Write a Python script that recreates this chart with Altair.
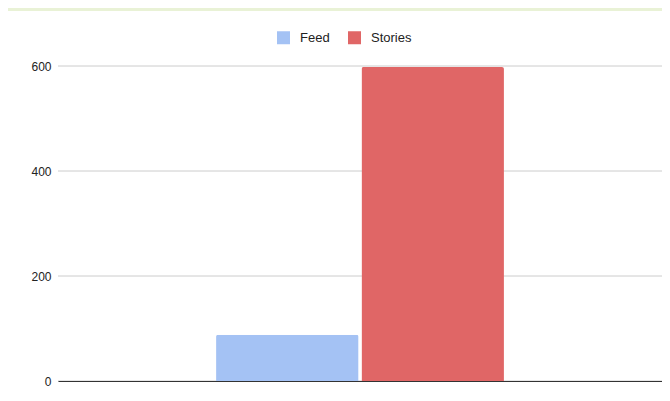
import altair as alt
import pandas as pd

categories = ["Feed", "Stories"]
values = [88, 598]
colors = ["#a4c2f4", "#e06666"]
y_ticks = [0, 200, 400, 600]

df = pd.DataFrame({"group": ["" for _ in categories], "series": categories, "value": values})
grid_df = pd.DataFrame({"tick": y_ticks})

yscale = alt.Scale(domain=[0, 600], nice=False)
yaxis = alt.Axis(values=y_ticks, title=None, domain=False, ticks=False, grid=False,
                 zindex=1, labelPadding=7, labelFontSize=12, labelColor="#222222",
                 labelFont="Liberation Sans")

panel = alt.Chart(alt.Data(values=[{}])).mark_rect(color="white").encode(
    x=alt.value(-50), x2=alt.value(604), y=alt.value(-55), y2=alt.value(330)
)

grid = alt.Chart(grid_df).mark_rule(color="#cccccc", strokeWidth=1).encode(
    y=alt.Y("tick:Q", scale=yscale, axis=yaxis),
    x=alt.value(0), x2=alt.value(604),
)

bars = alt.Chart(df).mark_bar(
    cornerRadiusTopLeft=2, cornerRadiusTopRight=2
).encode(
    x=alt.X("group:N", axis=alt.Axis(labels=False, ticks=False, title=None, zindex=1,
                                      domainColor="#333333", domainWidth=1.2, grid=False),
            scale=alt.Scale(paddingInner=0, paddingOuter=0.549)),
    xOffset=alt.XOffset("series:N", scale=alt.Scale(paddingInner=0.02, paddingOuter=0),
                        sort=categories),
    y=alt.Y("value:Q", scale=yscale, axis=yaxis),
    color=alt.Color("series:N", sort=categories,
                    scale=alt.Scale(domain=categories, range=colors),
                    legend=alt.Legend(title=None, orient="none", legendX=219, legendY=-35,
                                      direction="horizontal", symbolType="square",
                                      symbolSize=169, symbolStrokeWidth=0,
                                      labelFontSize=13, labelColor="#222222",
                                      labelFont="Liberation Sans", labelOffset=10,
                                      columnPadding=18)),
)

chart = alt.layer(panel, grid, bars).resolve_scale(y="shared").properties(
    width=604, height=315,
    background="#e9f2d6",
    autosize=alt.AutoSizeParams(type="none"),
    padding={"left": 50, "top": 58, "right": 0, "bottom": 12},
).configure_view(stroke=None)

chart.save("out.html", embed_options={"renderer": "svg", "actions": False})
